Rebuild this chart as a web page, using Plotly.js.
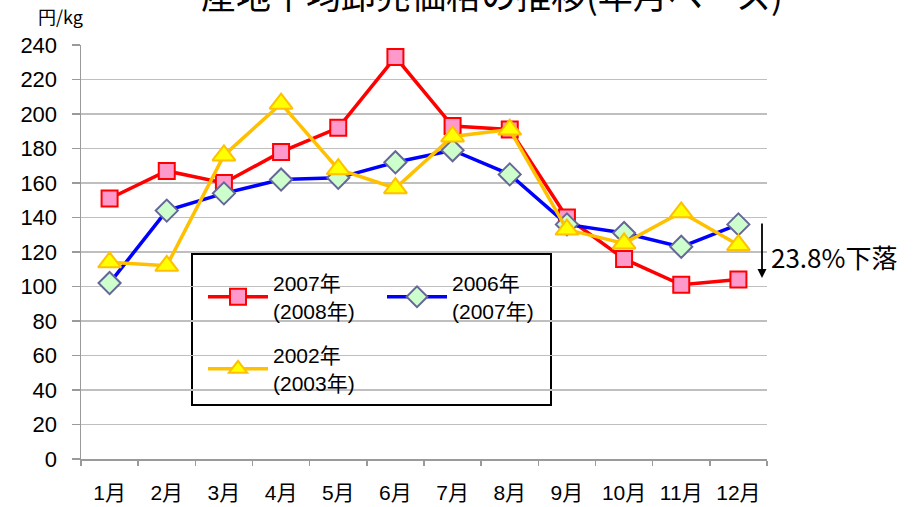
<!DOCTYPE html>
<html><head><meta charset="utf-8">
<script src="https://cdn.plot.ly/plotly-3.0.1.min.js"></script>
<style>body{margin:0;background:#fff}#c{width:917px;height:507px}</style>
</head><body><div id="c"></div>
<script>
const months = ['1月','2月','3月','4月','5月','6月','7月','8月','9月','10月','11月','12月'];
const s2007 = [151,167,160,178,192,233,193,191,140,116,101,104];
const s2006 = [102,144,154,162,163,172,179,165,136,131,123,136];
const s2002 = [114,112,176,206,168,157,187,191,133,125,143,124];
const names = ['2007年<br>(2008年)','2006年<br>(2007年)','2002年<br>(2003年)'];
const titleText = '産地平均卸売価格の推移(年月ベース)';
const unitText = '円/kg';
const noteText = '23.8%下落';

const F = 'Liberation Sans, Arial, Noto Sans CJK JP, sans-serif';
const W=917,H=507,L=81,R=767,T=45,B=459;
const px = x => (x-L)/(R-L), py = y => (B-y)/(B-T);

const traces = [
 {x:months,y:s2007,name:names[0],type:'scatter',mode:'lines+markers',legend:'legend',
  line:{color:'#FF0000',width:3.5},marker:{symbol:'square',size:16,color:'#FF99CC',line:{color:'#FF0000',width:2}}},
 {x:months,y:s2006,name:names[1],type:'scatter',mode:'lines+markers',legend:'legend',
  line:{color:'#0000FF',width:3.5},marker:{symbol:'diamond',size:17,color:'#CCFFCC',line:{color:'#666699',width:2}}},
 {x:months,y:s2002,name:names[2],type:'scatter',mode:'lines+markers',legend:'legend2',
  line:{color:'#FFC000',width:3.5},marker:{symbol:'triangle-up',size:20,color:'#FFFF00',line:{color:'#FFC000',width:2}}}
];

const layout = {
 width:W,height:H,margin:{l:L,r:W-R,t:T,b:H-B},
 paper_bgcolor:'#fff',plot_bgcolor:'#fff',
 font:{family:F,size:20,color:'#000'},
 showlegend:true,
 xaxis:{type:'category',showgrid:false,showline:true,linecolor:'#9a9a9a',linewidth:1.5,
   ticks:'outside',tickson:'boundaries',ticklen:5,tickcolor:'#9a9a9a',tickwidth:1.5,
   ticklabelstandoff:14,tickfont:{size:21,family:F},range:[-0.5,11.5],fixedrange:true},
 yaxis:{range:[0,240],dtick:20,showgrid:true,gridcolor:'#bfbfbf',gridwidth:1.5,
   showline:true,linecolor:'#9a9a9a',linewidth:1.5,ticks:'outside',ticklen:8,tickcolor:'#9a9a9a',
   tickwidth:1.5,ticklabelstandoff:10,tickfont:{size:22,family:F},zeroline:false},
 legend:{x:px(203),y:py(263),xanchor:'left',yanchor:'top',orientation:'h',entrywidth:104,
   bgcolor:'rgba(0,0,0,0)',borderwidth:0,font:{size:21,family:F},itemwidth:60},
 legend2:{x:px(203),y:py(335),xanchor:'left',yanchor:'top',orientation:'h',
   bgcolor:'rgba(0,0,0,0)',borderwidth:0,font:{size:21,family:F},itemwidth:60},
 shapes:[{type:'rect',xref:'paper',yref:'paper',x0:px(192),x1:px(551),y0:py(254),y1:py(405),
   line:{color:'#000',width:2},fillcolor:'#fff',layer:'below'}],
 annotations:[
  {text:titleText,xref:'paper',yref:'paper',x:px(492),y:py(-7),xanchor:'center',yanchor:'middle',
   showarrow:false,font:{size:35,family:'Noto Sans CJK JP, sans-serif'}},
  {text:unitText,xref:'paper',yref:'paper',x:px(36),y:py(16),xanchor:'left',yanchor:'middle',
   showarrow:false,font:{size:18,family:'Noto Sans CJK JP, sans-serif'}},
  {text:noteText,xref:'paper',yref:'paper',x:px(769),y:py(256),xanchor:'left',yanchor:'middle',
   showarrow:false,font:{size:26,family:'Noto Sans CJK JP, sans-serif'}},
  {text:'',xref:'paper',yref:'paper',x:px(762),y:py(278),axref:'pixel',ayref:'pixel',ax:0,ay:-56,
   showarrow:true,arrowhead:2,arrowsize:1,arrowwidth:1.8,arrowcolor:'#000'}
 ]
};
Plotly.newPlot('c',traces,layout,{displayModeBar:false,staticPlot:true});
</script></body></html>
